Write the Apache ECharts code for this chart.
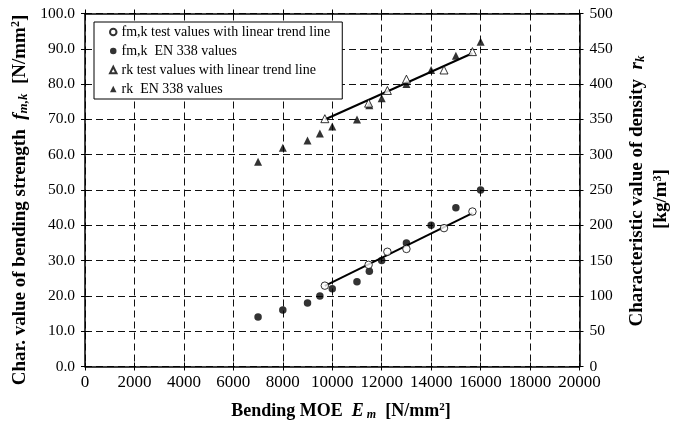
<!DOCTYPE html>
<html>
<head>
<meta charset="utf-8">
<script src="https://cdn.jsdelivr.net/npm/echarts@6/dist/echarts.min.js"></script>
<style>
  html, body { margin: 0; padding: 0; background: #fff; }
  #chart { width: 673px; height: 424px; }
</style>
</head>
<body>
<div id="chart"></div>
<script>
// Tested samples: bending MOE E_m [N/mm²], strength f_m,k [N/mm²], density r_k [kg/m³]
const testMoe      = [9700, 11470, 12230, 13000, 14520, 15670];
const testStrength = [22.9, 28.8, 32.5, 33.3, 39.2, 43.9];
const testDensity  = [351, 373, 391, 407, 420, 446];

// EN 338 strength classes C14 ... C50
const enMoe      = [7000, 8000, 9000, 9500, 10000, 11000, 11500, 12000, 13000, 14000, 15000, 16000];
const enStrength = [14, 16, 18, 20, 22, 24, 27, 30, 35, 40, 45, 50];
const enDensity  = [290, 310, 320, 330, 340, 350, 370, 380, 400, 420, 440, 460];

// Axis scales: [min, max, step]
const moeScale      = [0, 20000, 2000];
const strengthScale = [0, 100, 10];
const densityScale  = [0, 500, 50];

const seriesNames = [
  'fm,k test values with linear trend line',
  'fm,k  EN 338 values',
  'rk test values with linear trend line',
  'rk  EN 338 values'
];

// Least-squares line over the range of the tested values
function linearTrend(xs, ys) {
  const n = xs.length;
  const mx = xs.reduce((a, b) => a + b, 0) / n;
  const my = ys.reduce((a, b) => a + b, 0) / n;
  let sxy = 0, sxx = 0;
  for (let i = 0; i < n; i++) {
    sxy += (xs[i] - mx) * (ys[i] - my);
    sxx += (xs[i] - mx) * (xs[i] - mx);
  }
  const slope = sxy / sxx;
  const x0 = Math.min(...xs), x1 = Math.max(...xs);
  return [[x0, my + slope * (x0 - mx)], [x1, my + slope * (x1 - mx)]];
}

const pairs = (xs, ys) => xs.map((x, i) => [x, ys[i]]);

const FONT = 'Liberation Serif';
const black = '#000';
const frameLine = { show: true, onZero: false, lineStyle: { color: black, width: 1.5 } };
const noLine = { show: false, onZero: false };
const dashed = { show: true, lineStyle: { color: '#111', width: 1, type: [7, 4] } };
const innerTick = { show: true, inside: true, length: 4, lineStyle: { color: black, width: 1 } };

function valueAxis(scale, extra) {
  return Object.assign({
    type: 'value',
    min: scale[0], max: scale[1], interval: scale[2],
    axisLine: noLine,
    axisTick: { show: true, inside: false, length: 4, lineStyle: { color: black, width: 1 } },
    axisLabel: { show: false },
    splitLine: { show: false }
  }, extra);
}

const xLabel = { show: true, color: black, fontFamily: FONT, fontSize: 17, margin: 8, formatter: v => String(v) };
const yLabel = { show: true, color: black, fontFamily: FONT, fontSize: 15.5, margin: 10 };

// Rich styles for italic symbols, subscripts and superscripts in axis titles
function titleRich(size) {
  return {
    i:   { fontFamily: FONT, fontWeight: 'bold', fontStyle: 'italic', fontSize: size, lineHeight: size + 1 },
    sub: { fontFamily: FONT, fontWeight: 'bold', fontStyle: 'italic', fontSize: size - 6, lineHeight: size - 7, verticalAlign: 'bottom' },
    sup: { fontFamily: FONT, fontWeight: 'bold', fontSize: size - 7, lineHeight: size - 8, verticalAlign: 'top' }
  };
}
const titleFont = size => 'bold ' + size + 'px "' + FONT + '"';

const chart = echarts.init(document.getElementById('chart'), null, { renderer: 'canvas' });

chart.setOption({
  animation: false,
  backgroundColor: '#fff',
  grid: { left: 85, right: 93.5, top: 13.5, bottom: 57.5, containLabel: false, outerBoundsMode: 'none' },
  xAxis: [
    valueAxis(moeScale, { position: 'bottom', axisLine: frameLine, axisLabel: xLabel, splitLine: dashed }),
    valueAxis(moeScale, { position: 'bottom', axisTick: innerTick }),
    valueAxis(moeScale, { position: 'top', axisLine: frameLine }),
    valueAxis(moeScale, { position: 'top', axisTick: innerTick })
  ],
  yAxis: [
    valueAxis(strengthScale, {
      position: 'left', axisLine: frameLine, splitLine: dashed,
      axisLabel: Object.assign({}, yLabel, { formatter: v => v.toFixed(1) })
    }),
    valueAxis(strengthScale, { position: 'left', axisTick: innerTick }),
    valueAxis(densityScale, { position: 'right', axisLine: frameLine, axisLabel: yLabel }),
    valueAxis(densityScale, { position: 'right', axisTick: innerTick })
  ],
  legend: {
    orient: 'vertical',
    left: 94, top: 22,
    data: seriesNames,
    selectedMode: false,
    itemWidth: 6.5, itemHeight: 6.5, itemGap: 5,
    padding: [3, 12, 3, 15],
    borderColor: black, borderWidth: 1,
    backgroundColor: '#fff',
    textStyle: { fontFamily: FONT, fontSize: 14, color: black }
  },
  series: [
    {
      type: 'line', xAxisIndex: 0, yAxisIndex: 0, z: 2,
      data: linearTrend(testMoe, testStrength),
      symbol: 'none', lineStyle: { color: black, width: 2 }, silent: true
    },
    {
      type: 'line', xAxisIndex: 0, yAxisIndex: 2, z: 2,
      data: linearTrend(testMoe, testDensity),
      symbol: 'none', lineStyle: { color: black, width: 2 }, silent: true
    },
    {
      name: seriesNames[1], type: 'scatter', xAxisIndex: 0, yAxisIndex: 0, z: 3,
      data: pairs(enMoe, enStrength), symbol: 'circle', symbolSize: 7.5,
      itemStyle: { color: black }
    },
    {
      name: seriesNames[3], type: 'scatter', xAxisIndex: 0, yAxisIndex: 2, z: 3,
      data: pairs(enMoe, enDensity), symbol: 'triangle', symbolSize: 8,
      itemStyle: { color: black }
    },
    {
      name: seriesNames[0], type: 'scatter', xAxisIndex: 0, yAxisIndex: 0, z: 4,
      data: pairs(testMoe, testStrength), symbol: 'circle', symbolSize: 7.5,
      itemStyle: { color: '#fff', borderColor: black, borderWidth: 1 }
    },
    {
      name: seriesNames[2], type: 'scatter', xAxisIndex: 0, yAxisIndex: 2, z: 4,
      data: pairs(testMoe, testDensity), symbol: 'triangle', symbolSize: 8,
      itemStyle: { color: '#fff', borderColor: black, borderWidth: 1 }
    }
  ],
  graphic: [
    {
      type: 'text', x: 20, y: 200, rotation: Math.PI / 2,
      style: {
        text: 'Char. value of bending strength  {i|f}{sub|m,k}  [N/mm{sup|2}]',
        align: 'center', verticalAlign: 'middle', font: titleFont(19), fill: black, rich: titleRich(19)
      }
    },
    {
      type: 'text', x: 341, y: 411,
      style: {
        text: 'Bending MOE  {i|E}{sub| m}  [N/mm{sup|2}]',
        align: 'center', verticalAlign: 'middle', font: titleFont(18), fill: black, rich: titleRich(18)
      }
    },
    {
      type: 'text', x: 637, y: 191, rotation: Math.PI / 2,
      style: {
        text: 'Characteristic value of density  {i|r}{sub|k}',
        align: 'center', verticalAlign: 'middle', font: titleFont(19), fill: black, rich: titleRich(19)
      }
    },
    {
      type: 'text', x: 661, y: 199, rotation: Math.PI / 2,
      style: {
        text: '[kg/m{sup|3}]',
        align: 'center', verticalAlign: 'middle', font: titleFont(19), fill: black, rich: titleRich(19)
      }
    }
  ]
});
</script>
</body>
</html>
